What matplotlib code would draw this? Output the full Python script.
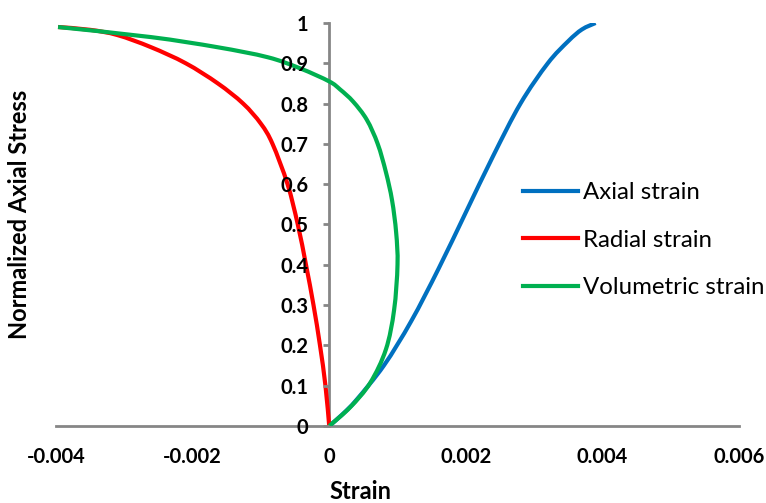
import matplotlib
matplotlib.use("Agg")
import numpy as np
import matplotlib.pyplot as plt
from matplotlib.path import Path
from matplotlib.patches import PathPatch
from matplotlib.lines import Line2D
from matplotlib.ticker import FixedLocator, FuncFormatter

plt.rcParams['font.family'] = ['Lato', 'DejaVu Sans']

# ---- data ----
axial_x = [0.0, 0.0002, 0.0004, 0.0008, 0.0012, 0.0016, 0.0020,
           0.0024, 0.0028, 0.0032, 0.0035, 0.0037, 0.0039]
axial_y = [0.0, 0.03, 0.065, 0.15, 0.26, 0.39, 0.53,
           0.67, 0.80, 0.90, 0.955, 0.984, 1.0]

radial_x = [-0.00397, -0.0035, -0.0031, -0.00261, -0.00210, -0.00163, -0.00126, -0.00100,
            -0.00083, -0.00061, -0.00046, -0.00034, -0.00023, -0.000135, -0.000055, 0.0]
radial_y = [0.99, 0.983, 0.97, 0.94, 0.90, 0.85, 0.80, 0.75,
            0.70, 0.60, 0.50, 0.40, 0.30, 0.20, 0.10, 0.0]

vol_x = [-0.00397, -0.00261, -0.00164, -0.0009, -0.00042, 0.0, 0.00016,
         0.00035, 0.00055, 0.00071, 0.00083, 0.00092, 0.00098, 0.0010,
         0.00095, 0.00083, 0.0006, 0.00031, 0.0]
vol_y = [0.99, 0.965, 0.94, 0.915, 0.887, 0.855, 0.835,
         0.805, 0.76, 0.70, 0.63, 0.56, 0.48, 0.40,
         0.288, 0.19, 0.107, 0.047, 0.0]

x_ticks = [-0.004, -0.002, 0, 0.002, 0.004, 0.006]
y_ticks = [0, 0.1, 0.2, 0.3, 0.4, 0.5, 0.6, 0.7, 0.8, 0.9, 1]

series = [
    ("Axial strain", axial_x, axial_y, "#0070C0"),
    ("Radial strain", radial_x, radial_y, "#FF0000"),
    ("Volumetric strain", vol_x, vol_y, "#00B050"),
]


def smooth_path(xs, ys):
    """Excel-style smoothed line: Catmull-Rom segments as cubic Bezier curves."""
    p = np.column_stack([xs, ys])
    pts = np.vstack([p[0], p, p[-1]])
    verts = [p[0]]
    codes = [Path.MOVETO]
    for i in range(1, len(pts) - 2):
        c1 = pts[i] + (pts[i + 1] - pts[i - 1]) / 6
        c2 = pts[i + 1] - (pts[i + 2] - pts[i]) / 6
        verts += [c1, c2, pts[i + 1]]
        codes += [Path.CURVE4] * 3
    return Path(verts, codes)


# ---- figure ----
fig = plt.figure(figsize=(7.66, 5.03), dpi=100)
ax = fig.add_axes([0.0731, 0.1531, 0.8917, 0.8012])

handles = []
for name, xs, ys, col in series:
    ax.add_patch(PathPatch(smooth_path(xs, ys), facecolor='none', edgecolor=col,
                           lw=3, capstyle='butt'))
    handles.append(Line2D([], [], color=col, lw=3, label=name))

ax.set_xlim(-0.004, 0.006)
ax.set_ylim(0, 1)

# axes cross at the origin, gray like Excel
axis_gray = "#868686"
for s in ['top', 'right']:
    ax.spines[s].set_visible(False)
ax.spines['left'].set_position(('data', 0))
ax.spines['bottom'].set_position(('data', 0))
for s in ['left', 'bottom']:
    ax.spines[s].set_color(axis_gray)
    ax.spines[s].set_linewidth(2)
    ax.spines[s].set_zorder(0.5)

ax.xaxis.set_major_locator(FixedLocator(x_ticks))
ax.yaxis.set_major_locator(FixedLocator(y_ticks))
ax.xaxis.set_major_formatter(FuncFormatter(lambda v, p: "0" if abs(v) < 1e-12 else f"{v:.3f}"))
ax.yaxis.set_major_formatter(FuncFormatter(lambda v, p: "0" if v == 0 else ("1" if v == 1 else f"{v:.1f}")))

ax.tick_params(axis='x', length=0, pad=15, labelsize=14.5)
ax.tick_params(axis='y', length=4, width=2, color=axis_gray, pad=11, labelsize=14.5, direction='out')
for lbl in ax.get_xticklabels() + ax.get_yticklabels():
    lbl.set_fontweight('bold')

fig.text(0.026, 0.573, "Normalized Axial Stress", rotation=90, ha='center', va='center',
         fontsize=17, fontweight='bold')
fig.text(0.47, 0.022, "Strain", ha='center', va='center', fontsize=17, fontweight='bold')

ax.legend(handles=handles, loc='upper left', bbox_to_anchor=(0.684, 0.605), frameon=False,
          fontsize=17.3, handlelength=2.3, handletextpad=0.2, labelspacing=1.1,
          borderaxespad=0, borderpad=0)

fig.savefig("out.png", dpi=100)
